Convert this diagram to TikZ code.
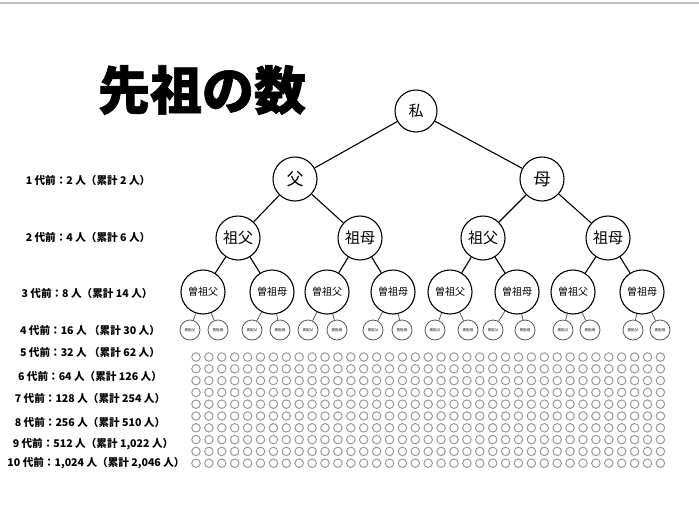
\documentclass[tikz,border=0pt]{standalone}
\usepackage{fontspec}
\setmainfont{Noto Sans CJK JP}
\usetikzlibrary{positioning}

\begin{document}
\begin{tikzpicture}
[x=1pt,y=-1pt,every node/.style={inner sep=0pt},
person/.style={circle,draw,line width=1.1pt,minimum size=44pt,font=\fontsize{15}{15}\selectfont},
small person/.style={circle,draw=black!65,line width=.8pt,minimum size=20pt,font=\fontsize{3.6}{4}\selectfont},
dot/.style={circle,draw=black!40,line width=1pt,minimum size=8.5pt},
gen label/.style={font=\bfseries\fontsize{10.6}{11}\selectfont},
link/.style={line width=1.1pt},
thin link/.style={line width=.8pt,black!65}]
\useasboundingbox (0,0) rectangle (699,520);
\draw [black!25,line width=2pt] (0,3) -- (699,3);
\node [font=\bfseries\addfontfeature{FakeBold=1.2}\fontsize{52}{52}\selectfont] (title) at (202,90) {先祖の数};
% tree
\node [person,minimum size=42pt] (me) at (416,111) {私};
\node [person,font=\fontsize{17}{17}\selectfont] (a1) at (295,179) {父};
\node [person,font=\fontsize{17}{17}\selectfont] (a2) at (542,179) {母};
\node [person] (b1) at (238,238) {祖父};
\node [person] (b2) at (360,238) {祖母};
\node [person] (b3) at (483,238) {祖父};
\node [person] (b4) at (608,238) {祖母};
\foreach \x [count=\i] in {203,272,327,393,450,517,573,642}
  \node [person,font=\fontsize{10}{10}\selectfont] (c\i) at (\x,292) {\ifodd\i 曽祖父\else 曽祖母\fi};
\foreach \x [count=\i] in {190,218,252,280,308,337,373,402,435,468,493,525,563,590,633,660}
  \node [small person] (d\i) at (\x,330) {\ifodd\i 高祖父\else 高祖母\fi};
\draw [link] (me) -- (a1) (me) -- (a2);
\foreach \i [evaluate=\i as \j using int(2*\i-1),evaluate=\i as \k using int(2*\i)] in {1,2}
  \draw [link] (a\i) -- (b\j) (a\i) -- (b\k);
\foreach \i [evaluate=\i as \j using int(2*\i-1),evaluate=\i as \k using int(2*\i)] in {1,...,4}
  \draw [link] (b\i) -- (c\j) (b\i) -- (c\k);
\foreach \i [evaluate=\i as \j using int(2*\i-1),evaluate=\i as \k using int(2*\i)] in {1,...,8}
  \draw [thin link] (c\i) -- (d\j) (c\i) -- (d\k);
% older generations
\foreach \r in {0,...,9}
  \foreach \c in {0,...,36}
    \node [dot] (e\r-\c) at ({196+12.9*\c},{357+11.8*\r}) {};
% generation labels
\node [gen label] (l1) at (88,180) {1 代前：2 人（累計 2 人）};
\node [gen label] (l2) at (88,237) {2 代前：4 人（累計 6 人）};
\node [gen label] (l3) at (87,293) {3 代前：8 人（累計 14 人）};
\node [gen label] (l4) at (90,330) {4 代前：16 人 （累計 30 人）};
\node [gen label] (l5) at (90,352) {5 代前：32 人 （累計 62 人）};
\node [gen label] (l6) at (90,376) {6 代前：64 人（累計 126 人）};
\node [gen label] (l7) at (90,398) {7 代前：128 人（累計 254 人）};
\node [gen label] (l8) at (90,422) {8 代前：256 人（累計 510 人）};
\node [gen label] (l9) at (93,444) {9 代前：512 人（累計 1,022 人）};
\node [gen label] (l10) at (96,463) {10 代前：1,024 人（累計 2,046 人）};
\end{tikzpicture}
\end{document}
